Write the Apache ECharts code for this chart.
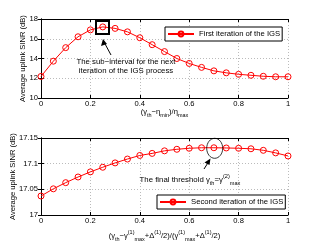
<!DOCTYPE html>
<html><head><meta charset="utf-8">
<script src="https://cdn.jsdelivr.net/npm/echarts@6/dist/echarts.min.js"></script>
<style>html,body{margin:0;padding:0;background:#fff}#c{width:319px;height:249px}</style>
</head><body><div id="c"></div>
<script>
const xValues = [0,0.05,0.1,0.15,0.2,0.25,0.3,0.35,0.4,0.45,0.5,0.55,0.6,0.65,0.7,0.75,0.8,0.85,0.9,0.95,1];
const firstIter = [12.18,13.73,15.1,16.2,16.9,17.2,17.05,16.7,16.1,15.4,14.7,14.0,13.5,13.1,12.75,12.55,12.4,12.3,12.2,12.15,12.15];
const secondIter = [17.037,17.051,17.063,17.074,17.084,17.093,17.1015,17.109,17.116,17.120,17.125,17.128,17.130,17.131,17.131,17.1306,17.130,17.129,17.126,17.121,17.115];
const xTicks = [0,0.2,0.4,0.6,0.8,1];
const yTicksTop = [10,12,14,16,18];
const yTicksBottom = [17,17.05,17.1,17.15];
const seriesNames = ['First iteration of the IGS','Second iteration of the IGS'];

const FONT = 'Liberation Sans';
const FS = 7.6;
const chart = echarts.init(document.getElementById('c'), null, {renderer:'canvas'});
const mkRich = (fs, lh) => ({
  b:{fontSize:fs,fontFamily:FONT,color:'#000',lineHeight:lh,verticalAlign:'middle'},
  sub:{fontSize:fs*0.72,fontFamily:FONT,color:'#000',lineHeight:lh,verticalAlign:'bottom'},
  sup:{fontSize:fs*0.72,fontFamily:FONT,color:'#000',lineHeight:lh,verticalAlign:'top'}
});
const rich = mkRich(FS,12);
const richAnn = mkRich(7.8,13);
function xAxisMain(gi, name, gap){
  return {type:'value',gridIndex:gi,min:xTicks[0],max:xTicks[xTicks.length-1],interval:0.2,
    axisLine:{show:true,lineStyle:{color:'#000',width:1}},
    axisTick:{inside:true,length:3,lineStyle:{color:'#000'}},
    axisLabel:{fontSize:FS,fontFamily:FONT,color:'#000',margin:2,formatter:v=>String(+v.toFixed(2))},
    splitLine:{show:true,lineStyle:{color:'#bbb',type:[1,2],width:1}},
    name:name,nameLocation:'middle',nameGap:gap,nameMoveOverlap:false,nameTextStyle:{rich:rich}};
}
function xAxisTop(gi){
  return {type:'value',gridIndex:gi,min:0,max:1,interval:0.2,position:'top',
    axisLine:{show:true,lineStyle:{color:'#000'}},axisTick:{inside:true,length:3,lineStyle:{color:'#000'}},
    axisLabel:{show:false},splitLine:{show:false}};
}
function yAxisMain(gi,min,max,intv,gap){
  return {type:'value',gridIndex:gi,min:min,max:max,interval:intv,
    axisLine:{show:true,lineStyle:{color:'#000'}},
    axisTick:{inside:true,length:3,lineStyle:{color:'#000'}},
    axisLabel:{fontSize:FS,fontFamily:FONT,color:'#000',margin:3,formatter:v=>String(+v.toFixed(3))},
    splitLine:{show:true,lineStyle:{color:'#bbb',type:[1,2],width:1}},
    name:'Average uplink SINR (dB)',nameLocation:'middle',nameGap:gap,nameMoveOverlap:false,
    nameTextStyle:{fontSize:FS,fontFamily:FONT,color:'#000'}};
}
function yAxisRight(gi,min,max,intv){
  return {type:'value',gridIndex:gi,min:min,max:max,interval:intv,position:'right',
    axisLine:{show:true,lineStyle:{color:'#000'}},axisTick:{inside:true,length:3,lineStyle:{color:'#000'}},
    axisLabel:{show:false},splitLine:{show:false}};
}
const lineSeries = (name, data, xi, yi) => ({
  name:name,type:'line',xAxisIndex:xi,yAxisIndex:yi,
  data:xValues.map((x,i)=>[x,data[i]]),
  symbol:'circle',symbolSize:6,showSymbol:true,
  lineStyle:{color:'#ff0000',width:1},
  itemStyle:{color:'rgba(255,255,255,0)',borderColor:'#ff0000',borderWidth:1},
  animation:false
});
const legendBase = {orient:'horizontal',itemWidth:26,itemHeight:6,itemGap:4,
  borderColor:'#000',borderWidth:1,backgroundColor:'#fff',padding:[3,2,3,2],
  textStyle:{fontSize:7.7,fontFamily:FONT,color:'#000'}};

chart.setOption({
  animation:false,
  grid:[{left:41,right:31,top:19,height:79},{left:41,right:31,top:138,height:77}],
  xAxis:[xAxisMain(0,'{b|(γ}{sub|th}{b|−η}{sub|min}{b|)/η}{sub|max}',8),
         xAxisMain(1,'{b|(γ}{sub|th}{b|−γ}{sup|(1)}{sub|max}{b|+Δ}{sup|(1)}{b|/2)/(γ}{sup|(1)}{sub|max}{b|+Δ}{sup|(1)}{b|/2)}',15),
         xAxisTop(0),xAxisTop(1)],
  yAxis:[yAxisMain(0,yTicksTop[0],yTicksTop[yTicksTop.length-1],2,14),
         yAxisMain(1,yTicksBottom[0],yTicksBottom[yTicksBottom.length-1],0.05,24),
         yAxisRight(0,10,18,2),yAxisRight(1,17,17.15,0.05)],
  legend:[Object.assign({},legendBase,{data:[seriesNames[0]],left:165,top:27}),
          Object.assign({},legendBase,{data:[seriesNames[1]],left:157,top:195})],
  series:[lineSeries(seriesNames[0],firstIter,0,0),lineSeries(seriesNames[1],secondIter,1,1)],
  graphic:[
    {type:'rect',shape:{x:96,y:21,width:13,height:13},style:{fill:'none',stroke:'#000',lineWidth:2},z:10},
    {type:'line',shape:{x1:111,y1:55,x2:104,y2:42},style:{stroke:'#000',lineWidth:1},z:10},
    {type:'polygon',shape:{points:[[103,39],[101,46],[107,44]]},style:{fill:'#000'},z:10},
    {type:'text',x:126,y:57.5,style:{text:'The sub−interval for the next\niteration of the IGS process',
      fontSize:7.8,fontFamily:FONT,fill:'#000',align:'center',lineHeight:9},z:10},
    {type:'ellipse',shape:{cx:214.7,cy:148.3,rx:8,ry:10},style:{fill:'none',stroke:'#000',lineWidth:0.8},z:10},
    {type:'line',shape:{x1:204,y1:169,x2:208.5,y2:162},style:{stroke:'#000',lineWidth:1},z:10},
    {type:'polygon',shape:{points:[[210.5,158.5],[204.5,162.5],[209.5,165]]},style:{fill:'#000'},z:10},
    {type:'text',x:190,y:173.5,style:{
      text:'{b|The final threshold γ}{sub|th}{b|=γ}{sup|(2)}{sub|max}',
      rich:richAnn,align:'center'},z:10}
  ]
});
</script></body></html>
